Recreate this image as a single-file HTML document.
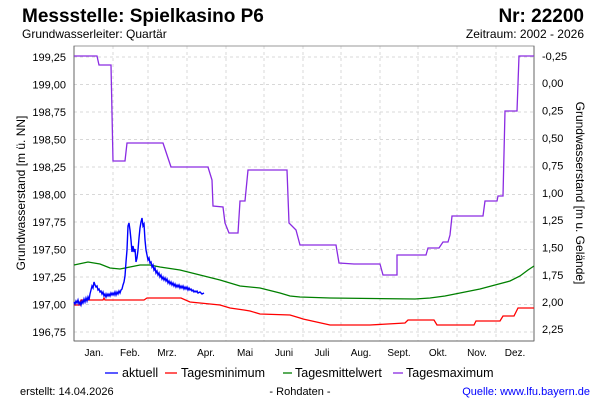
<!DOCTYPE html>
<html><head><meta charset="utf-8"><style>
body{margin:0;background:#fff;}
svg text{font-family:"Liberation Sans",sans-serif;}
</style></head><body>
<svg width="600" height="400" xmlns="http://www.w3.org/2000/svg">
<rect width="600" height="400" fill="#fff"/>
<text x="22" y="22" font-size="19" font-weight="bold" fill="#000">Messstelle: Spielkasino P6</text>
<text x="584" y="22" font-size="19" font-weight="bold" fill="#000" text-anchor="end">Nr: 22200</text>
<text x="22" y="38" font-size="12" fill="#000">Grundwasserleiter: Quartär</text>
<text x="584" y="38" font-size="12" fill="#000" text-anchor="end">Zeitraum: 2002 - 2026</text>
<g stroke="#d8d8d8" stroke-dasharray="3,3" stroke-width="1">
<line x1="74" x2="534" y1="57" y2="57"/><line x1="74" x2="534" y1="84.5" y2="84.5"/><line x1="74" x2="534" y1="112" y2="112"/><line x1="74" x2="534" y1="139.5" y2="139.5"/><line x1="74" x2="534" y1="167" y2="167"/><line x1="74" x2="534" y1="194.5" y2="194.5"/><line x1="74" x2="534" y1="222" y2="222"/><line x1="74" x2="534" y1="249.5" y2="249.5"/><line x1="74" x2="534" y1="277" y2="277"/><line x1="74" x2="534" y1="304.5" y2="304.5"/><line x1="74" x2="534" y1="332" y2="332"/>
<line x1="113" x2="113" y1="46" y2="341"/><line x1="148" x2="148" y1="46" y2="341"/><line x1="187" x2="187" y1="46" y2="341"/><line x1="226" x2="226" y1="46" y2="341"/><line x1="264" x2="264" y1="46" y2="341"/><line x1="303" x2="303" y1="46" y2="341"/><line x1="341" x2="341" y1="46" y2="341"/><line x1="380" x2="380" y1="46" y2="341"/><line x1="418" x2="418" y1="46" y2="341"/><line x1="457" x2="457" y1="46" y2="341"/><line x1="496" x2="496" y1="46" y2="341"/>
</g>
<rect x="74" y="46" width="460" height="295" fill="none" stroke="#999" stroke-width="1"/>
<line x1="74" y1="46" x2="74" y2="341" stroke="#666"/><line x1="74" y1="341" x2="534" y2="341" stroke="#666"/><line x1="534" y1="46" x2="534" y2="341" stroke="#666"/>
<g font-size="11" fill="#000" text-anchor="end">
<text x="66" y="61">199,25</text><text x="66" y="88.5">199,00</text><text x="66" y="116">198,75</text><text x="66" y="143.5">198,50</text><text x="66" y="171">198,25</text><text x="66" y="198.5">198,00</text><text x="66" y="226">197,75</text><text x="66" y="253.5">197,50</text><text x="66" y="281">197,25</text><text x="66" y="308.5">197,00</text><text x="66" y="336">196,75</text>
</g>
<g font-size="11" fill="#000">
<text x="542" y="60">-0,25</text><text x="542" y="87">0,00</text><text x="542" y="114.5">0,25</text><text x="542" y="142">0,50</text><text x="542" y="169.5">0,75</text><text x="542" y="197">1,00</text><text x="542" y="224">1,25</text><text x="542" y="251.5">1,50</text><text x="542" y="279">1,75</text><text x="542" y="306">2,00</text><text x="542" y="333">2,25</text>
</g>
<g font-size="10" fill="#000" text-anchor="middle">
<text x="94" y="356">Jan.</text><text x="130" y="356">Feb.</text><text x="167" y="356">Mrz.</text><text x="206" y="356">Apr.</text><text x="245" y="356">Mai</text><text x="284" y="356">Juni</text><text x="322" y="356">Juli</text><text x="361" y="356">Aug.</text><text x="399" y="356">Sept.</text><text x="438" y="356">Okt.</text><text x="477" y="356">Nov.</text><text x="515" y="356">Dez.</text>
</g>
<text transform="translate(25,193) rotate(-90)" font-size="12" text-anchor="middle">Grundwasserstand [m ü. NN]</text>
<text transform="translate(576,193) rotate(90)" font-size="12" text-anchor="middle">Grundwasserstand [m u. Gelände]</text>
<g fill="none" stroke-width="1.3">
<polyline stroke="#8a2be2" points="74,56 97,56 99,65 111,65 113,161 125,161 127,143 163,143 166,152 168,158 171,167 208,167 212,180 213,206 223,207 225,223 229,233 238,233 240,201 245,201 248,170 287,170 289,223 296,230 300,245 336,245 339,263 354,264 380,264 383,275 397,275 397,255 426,255 428,248 439,248 443,242 448,242 450,235 452,216 483,216 485,201 497,201 498,196 503,196 505,111 517,111 519,56 534,56"/>
<polyline stroke="#008000" points="74,265 88,262 100,264 110,268 120,269 130,267 140,265 150,265 160,267 180,270 200,275 220,280 240,286 260,288 280,293 290,296 300,297 330,298 415,299 430,298 445,296 460,293 480,289 495,285 510,281 520,276 528,270 534,266"/>
<polyline stroke="#ff0000" points="74,305 80,305 81,300 103,300 104,298 105,300 144,300 147,298 181,298 190,302 200,303 220,305 230,308 244,310 250,311 260,314 290,315 300,318 303,319 312,321 330,325 370,325 405,323 408,320 434,320 437,325 474,325 476,321 500,321 503,316 514,316 518,308 534,308"/>
<polyline stroke="#0000ff" stroke-width="1.4" points="74,302 75,304 76,301 77,303 78,300 79,304 80,302 81,305 82,301 83,303 84,299 85,302 86,298 87,301 88,297 89,300 90,294 91,290 92,286 93,288 94,282 95,285 96,287 97,286 98,290 99,289 100,292 101,291 102,294 103,292 104,296 105,294 106,297 107,294 108,296 109,294 110,296 111,293 112,295 113,293 114,295 115,292 116,295 117,292 118,294 119,291 120,293 121,290 122,289 123,285 124,282 125,276 126,262 127,250 128,226 129,223 130,230 131,240 132,252 133,246 134,252 135,249 136,262 137,258 138,250 139,238 140,228 141,222 142,218 143,226 144,224 145,240 146,250 147,255 148,260 149,258 150,263 151,262 152,267 153,265 154,270 155,268 156,273 157,271 158,275 159,273 160,277 161,275 162,279 163,277 164,280 165,278 166,281 167,279 168,283 169,281 170,284 171,282 172,285 173,283 174,286 175,284 176,287 177,285 178,287 179,285 180,288 181,286 182,288 183,286 184,289 185,287 186,289 187,287 188,290 189,288 190,290 191,289 192,291 193,290 194,292 195,291 196,292 197,291 198,293 200,292 202,294 204,293"/>
</g>
<g font-size="12.5" fill="#000">
<line x1="105" y1="373" x2="118" y2="373" stroke="#0000ff" stroke-width="1.3"/><text x="122" y="377">aktuell</text>
<line x1="165" y1="373" x2="177" y2="373" stroke="#ff0000" stroke-width="1.3"/><text x="181" y="377">Tagesminimum</text>
<line x1="283" y1="373" x2="292" y2="373" stroke="#008000" stroke-width="1.3"/><text x="295" y="377">Tagesmittelwert</text>
<line x1="393" y1="373" x2="403" y2="373" stroke="#8a2be2" stroke-width="1.3"/><text x="406" y="377">Tagesmaximum</text>
</g>
<g font-size="11" fill="#000">
<text x="20" y="395">erstellt:  14.04.2026</text>
<text x="300" y="395" text-anchor="middle">- Rohdaten -</text>
<text x="590" y="395" text-anchor="end" fill="#0000ff">Quelle: www.lfu.bayern.de</text>
</g>
</svg>
</body></html>
